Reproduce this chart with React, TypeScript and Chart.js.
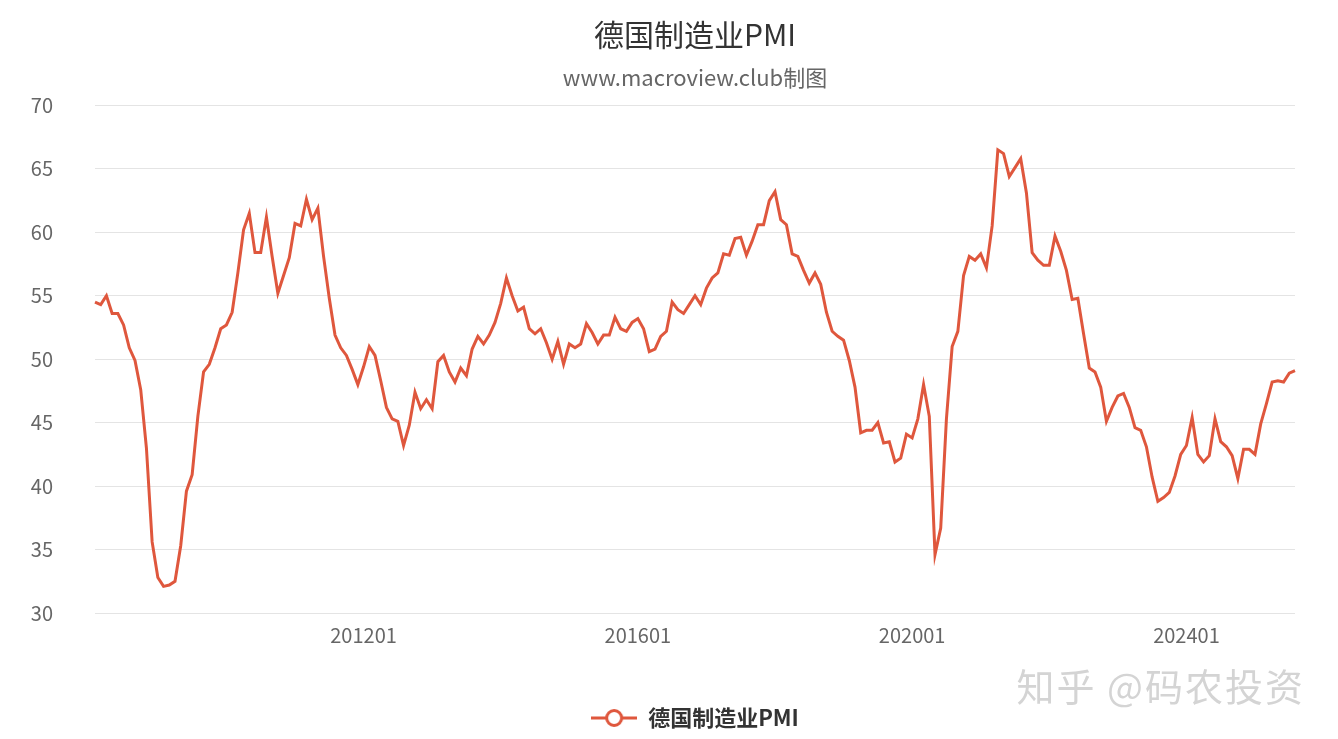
import React, { useEffect, useRef } from "react";
import { Chart, registerables } from "chart.js";

Chart.register(...registerables);

// ---- data ----
const TITLE = "德国制造业PMI";
const SUBTITLE = "www.macroview.club制图";
const SERIES_NAME = "德国制造业PMI";
const WATERMARK = "知乎 @码农投资";

// first category label of the axis (yyyymm)
const FIRST_YEAR = 2008;
const FIRST_MONTH = 2;

const TICK_LABELS = ["201201", "201601", "202001", "202401"];
const Y_TICKS = [30, 35, 40, 45, 50, 55, 60, 65, 70];

const PMI_2008 = [54.5, 54.3, 55.0, 53.6, 53.6, 52.7, 50.9, 49.9, 47.6, 43.0, 35.6, 32.8];
const PMI_2009 = [32.1, 32.2, 32.5, 35.3, 39.6, 40.9, 45.5, 49.0, 49.6, 50.9, 52.4, 52.7];
const PMI_2010 = [53.7, 56.8, 60.2, 61.5, 58.4, 58.4, 61.2, 58.1, 55.2, 56.6, 58.0, 60.7];
const PMI_2011 = [60.5, 62.6, 61.0, 61.9, 58.1, 54.8, 51.9, 50.9, 50.3, 49.2, 48.0, 49.4];
const PMI_2012 = [51.0, 50.3, 48.3, 46.2, 45.3, 45.1, 43.2, 44.8, 47.4, 46.1, 46.8, 46.1];
const PMI_2013 = [49.8, 50.3, 49.0, 48.2, 49.3, 48.7, 50.8, 51.8, 51.2, 51.9, 52.9, 54.4];
const PMI_2014 = [56.4, 55.0, 53.8, 54.1, 52.4, 52.0, 52.4, 51.3, 50.0, 51.4, 49.6, 51.2];
const PMI_2015 = [50.9, 51.2, 52.8, 52.1, 51.2, 51.9, 51.9, 53.3, 52.4, 52.2, 52.9, 53.2];
const PMI_2016 = [52.4, 50.6, 50.8, 51.8, 52.2, 54.5, 53.9, 53.6, 54.3, 55.0, 54.3, 55.6];
const PMI_2017 = [56.4, 56.8, 58.3, 58.2, 59.5, 59.6, 58.2, 59.3, 60.6, 60.6, 62.5, 63.2];
const PMI_2018 = [61.0, 60.6, 58.3, 58.1, 57.0, 56.0, 56.8, 55.9, 53.7, 52.2, 51.8, 51.5];
const PMI_2019 = [49.9, 47.8, 44.2, 44.4, 44.4, 45.0, 43.4, 43.5, 41.9, 42.2, 44.1, 43.8];
const PMI_2020 = [45.3, 48.0, 45.5, 34.6, 36.7, 45.3, 51.0, 52.2, 56.6, 58.1, 57.8, 58.3];
const PMI_2021 = [57.2, 60.5, 66.5, 66.2, 64.4, 65.1, 65.8, 63.1, 58.4, 57.8, 57.4, 57.4];
const PMI_2022 = [59.7, 58.5, 57.0, 54.7, 54.8, 52.0, 49.3, 49.0, 47.8, 45.1, 46.2, 47.1];
const PMI_2023 = [47.3, 46.2, 44.6, 44.4, 43.1, 40.7, 38.8, 39.1, 39.5, 40.8, 42.5, 43.2];
const PMI_2024 = [45.4, 42.5, 41.9, 42.4, 45.3, 43.5, 43.1, 42.4, 40.6, 42.9, 42.9, 42.5];
const PMI_2025 = [44.9, 46.5, 48.2, 48.3, 48.2, 48.9, 49.1];

const PMI_VALUES: number[] = [
  ...PMI_2008, ...PMI_2009, ...PMI_2010, ...PMI_2011, ...PMI_2012, ...PMI_2013,
  ...PMI_2014, ...PMI_2015, ...PMI_2016, ...PMI_2017, ...PMI_2018, ...PMI_2019,
  ...PMI_2020, ...PMI_2021, ...PMI_2022, ...PMI_2023, ...PMI_2024, ...PMI_2025,
];

const CATEGORIES: string[] = PMI_VALUES.map((_, i) => {
  const m = FIRST_MONTH - 1 + i;
  const y = FIRST_YEAR + Math.floor(m / 12);
  const mm = (m % 12) + 1;
  return `${y}${mm < 10 ? "0" + mm : mm}`;
});

// ---- style ----
const FONT = "'Microsoft YaHei', 'Noto Sans CJK SC', 'Noto Sans', sans-serif";
const LINE_COLOR = "#df573d";
const GRID_COLOR = "#e4e4e4";
const AXIS_TEXT = "#666666";

function makeLegendIcon(): HTMLCanvasElement {
  const c = document.createElement("canvas");
  c.width = 46;
  c.height = 22;
  const ctx = c.getContext("2d")!;
  ctx.strokeStyle = LINE_COLOR;
  ctx.lineWidth = 3;
  ctx.beginPath();
  ctx.moveTo(0, 11);
  ctx.lineTo(46, 11);
  ctx.stroke();
  ctx.beginPath();
  ctx.arc(23, 11, 7.5, 0, Math.PI * 2);
  ctx.fillStyle = "#ffffff";
  ctx.fill();
  ctx.stroke();
  return c;
}

export default function App() {
  const canvasRef = useRef<HTMLCanvasElement | null>(null);

  useEffect(() => {
    if (!canvasRef.current) return;
    const icon = makeLegendIcon();
    const chart = new Chart(canvasRef.current, {
      type: "line",
      data: {
        labels: CATEGORIES,
        datasets: [
          {
            label: SERIES_NAME,
            data: PMI_VALUES,
            borderColor: LINE_COLOR,
            backgroundColor: LINE_COLOR,
            borderWidth: 3,
            pointRadius: 0,
            pointHoverRadius: 0,
            tension: 0,
            fill: false,
          },
        ],
      },
      options: {
        responsive: true,
        maintainAspectRatio: false,
        animation: false,
        events: [],
        layout: { padding: { left: 0, right: 43, top: 0, bottom: 0 } },
        plugins: {
          title: {
            display: true,
            fullSize: false,
            text: TITLE,
            color: "#333333",
            font: { family: FONT, size: 30, weight: "normal" },
            padding: { top: 17, bottom: 11 },
          },
          subtitle: {
            display: true,
            fullSize: false,
            text: SUBTITLE,
            color: "#666666",
            font: { family: FONT, size: 22, weight: "normal" },
            padding: { top: 0, bottom: 15 },
          },
          legend: {
            display: true,
            position: "bottom",
            fullSize: false,
            labels: {
              usePointStyle: true,
              pointStyleWidth: 46,
              color: "#333333",
              font: { family: FONT, size: 22, weight: "bold" },
              padding: 10,
              generateLabels: () => [
                {
                  text: SERIES_NAME,
                  pointStyle: icon as any,
                  fillStyle: "#ffffff",
                  strokeStyle: LINE_COLOR,
                  lineWidth: 0,
                  hidden: false,
                  datasetIndex: 0,
                  fontColor: "#333333",
                } as any,
              ],
            },
          },
          tooltip: { enabled: false },
        },
        scales: {
          x: {
            type: "category",
            offset: false,
            grid: { display: false, drawTicks: false },
            border: { display: false },
            ticks: {
              autoSkip: false,
              maxRotation: 0,
              minRotation: 0,
              padding: 10,
              color: AXIS_TEXT,
              font: { family: FONT, size: 20 },
              callback: (_v: any, idx: number) =>
                TICK_LABELS.includes(CATEGORIES[idx]) ? CATEGORIES[idx] : "",
            },
            afterFit: (s: any) => {
              s.height = 84;
            },
          },
          y: {
            min: Y_TICKS[0],
            max: Y_TICKS[Y_TICKS.length - 1],
            grid: { color: GRID_COLOR, lineWidth: 1, drawTicks: false },
            border: { display: false },
            ticks: {
              stepSize: Y_TICKS[1] - Y_TICKS[0],
              padding: 42,
              color: AXIS_TEXT,
              font: { family: FONT, size: 20 },
            },
            afterFit: (s: any) => {
              s.width = 95;
            },
          },
        },
      },
    });
    return () => chart.destroy();
  }, []);

  return (
    <div
      style={{
        position: "absolute",
        left: 0,
        top: 0,
        width: 1338,
        height: 739,
        background: "#ffffff",
        overflow: "hidden",
      }}
    >
      <canvas ref={canvasRef} style={{ display: "block" }} />
      <div
        style={{
          position: "absolute",
          right: 33,
          top: 657,
          fontFamily: FONT,
          fontSize: 38,
          color: "#d4d4d4",
          whiteSpace: "pre",
          letterSpacing: 2,
          pointerEvents: "none",
        }}
      >
        {WATERMARK}
      </div>
    </div>
  );
}
